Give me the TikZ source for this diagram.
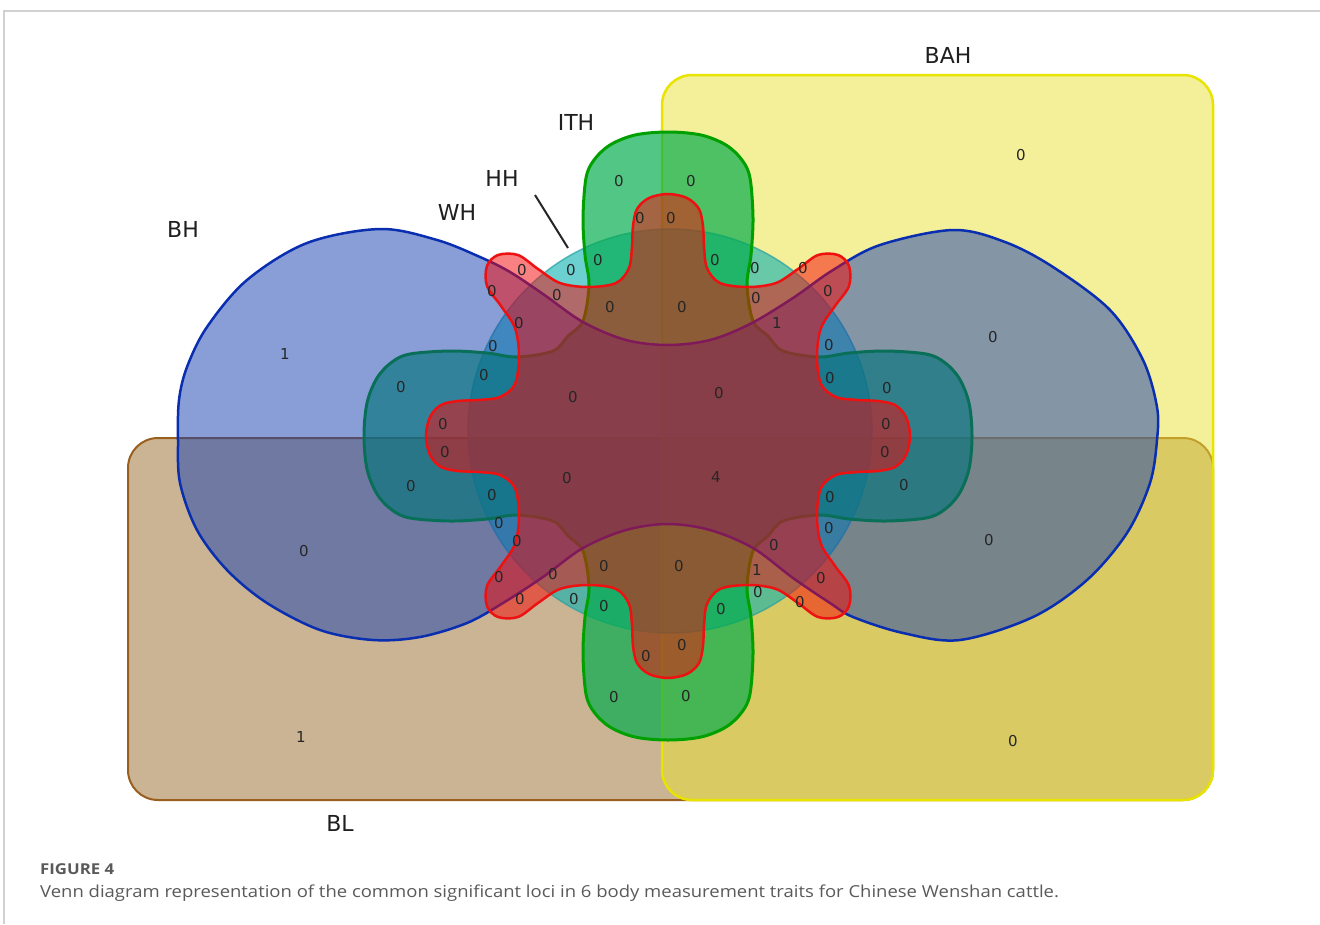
\documentclass[tikz,border=0pt]{standalone}
\usepackage{fontspec}
\setmainfont{DejaVu Sans}
\newfontfamily\capfont[FakeStretch=1.12]{Open Sans}
\definecolor{bahfill}{HTML}{EBE135}
\definecolor{bahline}{HTML}{E8E400}
\definecolor{blfill}{HTML}{976B29}
\definecolor{blline}{HTML}{9A5E1E}
\definecolor{bhfill}{HTML}{153FB1}
\definecolor{bhline}{HTML}{0A2EB0}
\definecolor{ithfill}{HTML}{00AC4C}
\definecolor{ithline}{HTML}{00A000}
\definecolor{hhfill}{HTML}{0AB1B1}
\definecolor{hhline}{HTML}{2AA0A0}
\definecolor{whfill}{HTML}{F50505}
\definecolor{whline}{HTML}{EE1111}
\definecolor{capgray}{HTML}{5A5A5A}
\begin{document}
\begin{tikzpicture}[x=1pt,y=-1pt,
  setlabel/.style={font=\fontsize{22}{22}\selectfont, text=black!88, inner sep=0pt},
  num/.style={font=\fontsize{15}{15}\selectfont, text=black!85, inner sep=0pt},
  setshape/.style={line join=round}]
\useasboundingbox (0,0) rectangle (1320,924);
\fill[white] (0,0) rectangle (1320,924);
\draw[black!18, line width=1.2] (4,924) -- (4,11) -- (1320,11);

% BL
\draw[setshape, rounded corners=30pt, fill=blfill, fill opacity=0.5, draw=blline, line width=2] (128,438) rectangle (1213,800);
% BAH
\draw[setshape, rounded corners=30pt, fill=bahfill, fill opacity=0.5, draw=bahline, line width=2.5] (662,75) rectangle (1213,800);
% HH circle
\draw[setshape, fill=hhfill, fill opacity=0.6, draw=hhline, draw opacity=0.7, line width=1.5] (670,431) circle[radius=202pt];
% ITH cross
\begin{scope}[shift={(668,436)}]
\draw[setshape, fill=ithfill, fill opacity=0.68, draw=ithline, line width=3]
 plot[smooth cycle, tension=0.55] coordinates {
 (0,-304)(-33,-301)(-58,-291)(-74,-276)(-82,-258)(-85,-218)(-83,-181)(-79,-151)(-85,-115)(-100,-100)(-115,-85)(-151,-79)(-181,-83)(-218,-85)(-258,-82)(-276,-74)(-291,-58)(-301,-33)(-304,0)
 (-301,33)(-291,58)(-276,74)(-258,82)(-218,85)(-181,83)(-151,79)(-115,85)(-100,100)(-85,115)(-79,151)(-83,181)(-85,218)(-82,258)(-74,276)(-58,291)(-33,301)(0,304)
 (33,301)(58,291)(74,276)(82,258)(85,218)(83,181)(79,151)(85,115)(100,100)(115,85)(151,79)(181,83)(218,85)(258,82)(276,74)(291,58)(301,33)(304,0)
 (301,-33)(291,-58)(276,-74)(258,-82)(218,-85)(181,-83)(151,-79)(115,-85)(100,-100)(85,-115)(79,-151)(83,-181)(85,-218)(82,-258)(74,-276)(58,-291)(33,-301)};
\end{scope}
% BH dumbbell
\draw[setshape, fill=bhfill, fill opacity=0.5, draw=bhline, line width=2.5]
 plot[smooth cycle, tension=0.55] coordinates {
 (668,345)(710,340)(750,324)(793,298)(833,270)(880,245)(953,230)(1005,242)(1053,267)(1110,310)(1143,360)(1157,407)(1157,440)(1150,483)(1127,533)(1087,580)(1033,617)(960,640)(903,633)(853,617)(830,603)(793,578)(753,548)(710,530)(668,524)(626,530)(583,548)(543,577)(503,603)(467,623)(420,637)(373,640)(320,630)(267,603)(227,570)(197,530)(180,483)(178,440)(179,400)(187,367)(207,327)(247,280)(307,243)(380,229)(437,240)(480,257)(510,272)(543,294)(583,322)(626,340)};
% WH flower
\begin{scope}[shift={(668,436)}]
\draw[setshape, fill=whfill, fill opacity=0.5, draw=whline, line width=2.5]
 plot[smooth cycle, tension=0.55] coordinates {
 (0,-242)(-19,-238)(-31,-227)(-35,-210)(-36,-190)(-39,-168)(-52,-153)(-80,-149)(-108,-153)(-130,-167)(-150,-181)(-170,-181)(-181,-170)(-181,-150)(-167,-130)(-153,-108)(-149,-80)(-153,-52)(-168,-39)(-190,-36)(-210,-35)(-227,-31)(-238,-19)(-242,0)
 (-238,19)(-227,31)(-210,35)(-190,36)(-168,39)(-153,52)(-149,80)(-153,108)(-167,130)(-181,150)(-181,170)(-170,181)(-150,181)(-130,167)(-108,153)(-80,149)(-52,153)(-39,168)(-36,190)(-35,210)(-31,227)(-19,238)(0,242)
 (19,238)(31,227)(35,210)(36,190)(39,168)(52,153)(80,149)(108,153)(130,167)(150,181)(170,181)(181,170)(181,150)(167,130)(153,108)(149,80)(153,52)(168,39)(190,36)(210,35)(227,31)(238,19)(242,0)
 (238,-19)(227,-31)(210,-35)(190,-36)(168,-39)(153,-52)(149,-80)(153,-108)(167,-130)(181,-150)(181,-170)(170,-181)(150,-181)(130,-167)(108,-153)(80,-149)(52,-153)(39,-168)(36,-190)(35,-210)(31,-227)(19,-238)};
\end{scope}

% set labels
\node[setlabel] (lBAH) at (948,55) {BAH};
\node[setlabel] (lITH) at (576,122) {ITH};
\node[setlabel] (lHH) at (502,178) {HH};
\node[setlabel] (lWH) at (457,212) {WH};
\node[setlabel] (lBH) at (183,229) {BH};
\node[setlabel] (lBL) at (340,823) {BL};
\coordinate (hhA) at (535,195);
\coordinate (hhB) at (568,248);
\draw[black!85, line width=2] (hhA) -- (hhB);

% region counts
\foreach \px/\py/\t [count=\i] in {
 619/181/0, 691/181/0, 640/218/0, 671/218/0, 1021/155/0, 285/354/1, 993/337/0, 304/551/0, 989/540/0, 301/737/1, 1013/741/0,
 522/270/0, 571/270/0, 598/260/0, 715/260/0, 755/268/0, 803/268/0,
 492/291/0, 557/295/0, 610/307/0, 682/307/0, 756/298/0, 828/291/0,
 519/323/0, 777/323/1, 493/346/0, 829/345/0,
 401/387/0, 484/375/0, 573/397/0, 719/393/0, 830/378/0, 887/388/0,
 443/424/0, 886/424/0, 445/452/0, 885/452/0,
 411/486/0, 492/495/0, 567/478/0, 716/477/4, 830/497/0, 904/485/0,
 499/523/0, 829/528/0, 517/541/0, 774/545/0,
 499/577/0, 553/574/0, 604/566/0, 679/566/0, 757/570/1, 821/578/0,
 520/599/0, 574/599/0, 604/606/0, 721/609/0, 758/592/0, 800/602/0,
 646/656/0, 682/645/0, 614/697/0, 686/696/0}
 \node[num] (n\i) at (\px,\py) {\t};

% caption
\node[anchor=west, inner sep=0pt, text=capgray, font=\capfont\bfseries\fontsize{15}{15}\selectfont] (figno) at (40,869) {FIGURE 4};
\node[anchor=west, inner sep=0pt, text=capgray, font=\capfont\fontsize{16.5}{16.5}\selectfont] (figcap) at (40,893) {Venn diagram representation of the common significant loci in 6 body measurement traits for Chinese Wenshan cattle.};
\end{tikzpicture}
\end{document}
